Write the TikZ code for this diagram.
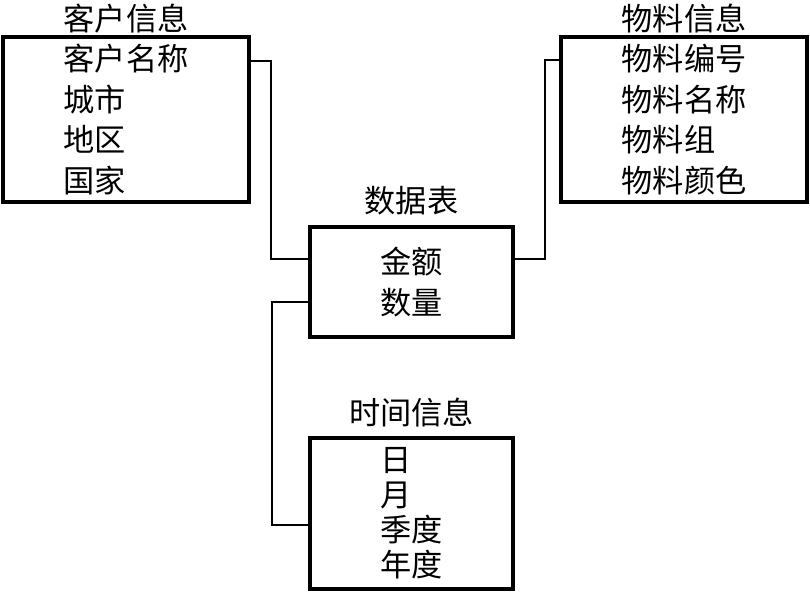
\documentclass[tikz,border=0pt]{standalone}
\usepackage{fontspec}
\setmainfont{Noto Sans CJK SC}
\usepackage{tikz}
\usetikzlibrary{positioning}

\begin{document}
\begin{tikzpicture}[x=0.5pt, y=-0.5pt, node distance=2pt, outer sep=0pt]

\tikzstyle{box}=[rectangle,draw,line width=1.7pt,anchor=north west,align=left,inner sep=0pt,font=\fontsize{15.6}{20.25}\selectfont]
\tikzstyle{title}=[inner sep=0pt,font=\fontsize{15.6}{18}\selectfont]
\tikzstyle{link}=[draw,line width=0.9pt]

\useasboundingbox (0,0) rectangle (810,591);

\node[box,minimum width=123pt,minimum height=82.5pt] (kehu) at (3,37) {客户名称\\城市\\地区\\国家};
\node[box,minimum width=123pt,minimum height=82.5pt] (wuliao) at (561,37) {物料编号\\物料名称\\物料组\\物料颜色};
\node[box,minimum width=101.5pt,minimum height=55pt] (shuju) at (310,227) {金额\\数量};
\node[box,minimum width=101.5pt,minimum height=75.5pt,font=\fontsize{15.6}{17.5}\selectfont] (shijian) at (310,438) {日\\月\\季度\\年度};

\node[title] (kehutitle) [above = 2pt of kehu] {客户信息};
\node[title] (wuliaotitle) [above = 2pt of wuliao] {物料信息};
\node[title] (shujutitle) [above = 6.2pt of shuju] {数据表};
\node[title] (shijiantitle) [above = 5.7pt of shijian] {时间信息};

\draw[link] ([yshift=-12pt]kehu.north east) -- ++(11pt,0) |- ([yshift=11.5pt]shuju.west);
\draw[link] ([yshift=-11.5pt]wuliao.north west) -- ++(-8pt,0) |- ([yshift=11.5pt]shuju.east);
\draw[link] ([yshift=-10pt]shuju.west) -- ++(-19pt,0) |- ([yshift=-5.75pt]shijian.west);
\end{tikzpicture}
\end{document}
